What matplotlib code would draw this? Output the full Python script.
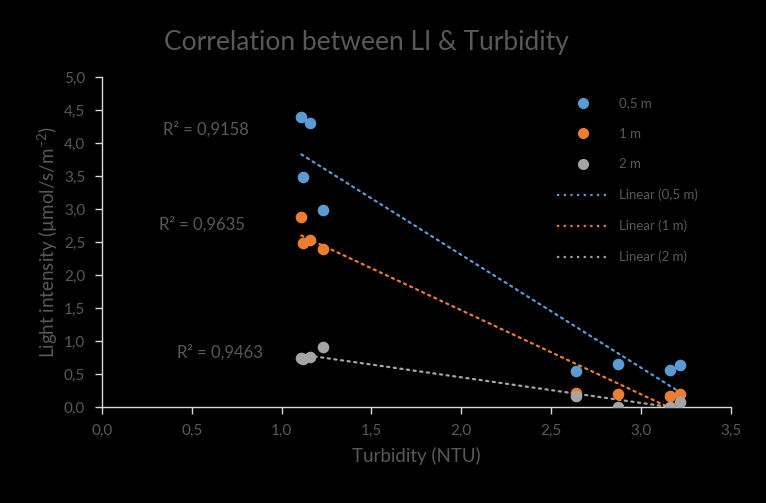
import numpy as np
import matplotlib
matplotlib.use('Agg')
import matplotlib.pyplot as plt
from matplotlib.ticker import FuncFormatter, MultipleLocator
from matplotlib.lines import Line2D

plt.rcParams['font.family'] = ['Lato', 'DejaVu Sans']
plt.rcParams['mathtext.fontset'] = 'custom'
plt.rcParams['mathtext.rm'] = 'Lato'

# data
turbidity = [1.11, 1.12, 1.16, 1.23, 2.64, 2.87, 3.16, 3.22]
li_05m = [4.40, 3.49, 4.30, 2.99, 0.55, 0.65, 0.56, 0.63]
li_1m = [2.88, 2.49, 2.53, 2.40, 0.21, 0.20, 0.16, 0.20]
li_2m = [0.74, 0.73, 0.76, 0.91, 0.17, 0.00, 0.00, 0.08]
series_names = ['0,5 m', '1 m', '2 m']
r2_labels = ['R² = 0,9158', 'R² = 0,9635', 'R² = 0,9463']
r2_pos = [(0.34, 4.20), (0.32, 2.76), (0.42, 0.82)]

colors = ['#5B9BD5', '#ED7D31', '#A5A5A5']
txt = '#595959'
spine = '#D9D9D9'

fig = plt.figure(figsize=(7.66, 5.03), dpi=100, facecolor='black')
ax = fig.add_axes([0.133, 0.191, 0.821, 0.656], facecolor='black')

x = np.array(turbidity)
handles = []
line_handles = []
for name, ys, c in zip(series_names, [li_05m, li_1m, li_2m], colors):
    ys = np.array(ys)
    ax.scatter(x, ys, s=70, color=c, zorder=3, linewidths=0)
    k, b = np.polyfit(x, ys, 1)
    xx = np.array([x.min(), x.max()])
    ax.plot(xx, k * xx + b, color=c, lw=1.6, linestyle=(0, (1, 2)),
            dash_capstyle='round', zorder=2)
    handles.append(Line2D([], [], marker='o', color=c, linestyle='none',
                          markersize=7, label=name))
    line_handles.append(Line2D([], [], color=c, lw=1.6, linestyle=(0, (1, 2)),
                               label='Linear (' + name + ')'))

for lab, (px, py) in zip(r2_labels, r2_pos):
    ax.text(px, py, lab, color=txt, fontsize=12, ha='left', va='center')

ax.set_xlim(0, 3.5)
ax.set_ylim(0, 5)
ax.xaxis.set_major_locator(MultipleLocator(0.5))
ax.yaxis.set_major_locator(MultipleLocator(0.5))
fmt = FuncFormatter(lambda v, p: f'{v:.1f}'.replace('.', ','))
ax.xaxis.set_major_formatter(fmt)
ax.yaxis.set_major_formatter(fmt)
ax.tick_params(colors=spine, labelcolor=txt, labelsize=11, length=5,
               width=1, pad=7)

for s in ['top', 'right']:
    ax.spines[s].set_visible(False)
for s in ['left', 'bottom']:
    ax.spines[s].set_color(spine)
    ax.spines[s].set_linewidth(1)

ax.set_xlabel('Turbidity (NTU)', color=txt, fontsize=13.5, labelpad=7)
ax.set_ylabel('Light intensity (µmol/s/m$^{-2}$)', color=txt, fontsize=13.5, labelpad=3)
fig.text(0.479, 0.916, 'Correlation between LI & Turbidity', color=txt,
         fontsize=19, ha='center', va='center')

leg = fig.legend(handles=handles + line_handles, loc='upper left',
                 bbox_to_anchor=(0.711, 0.830), frameon=False, fontsize=9.5,
                 labelcolor=txt, handlelength=4, handletextpad=0.7,
                 labelspacing=1.4)

fig.savefig('out.png', dpi=100, facecolor='black')
